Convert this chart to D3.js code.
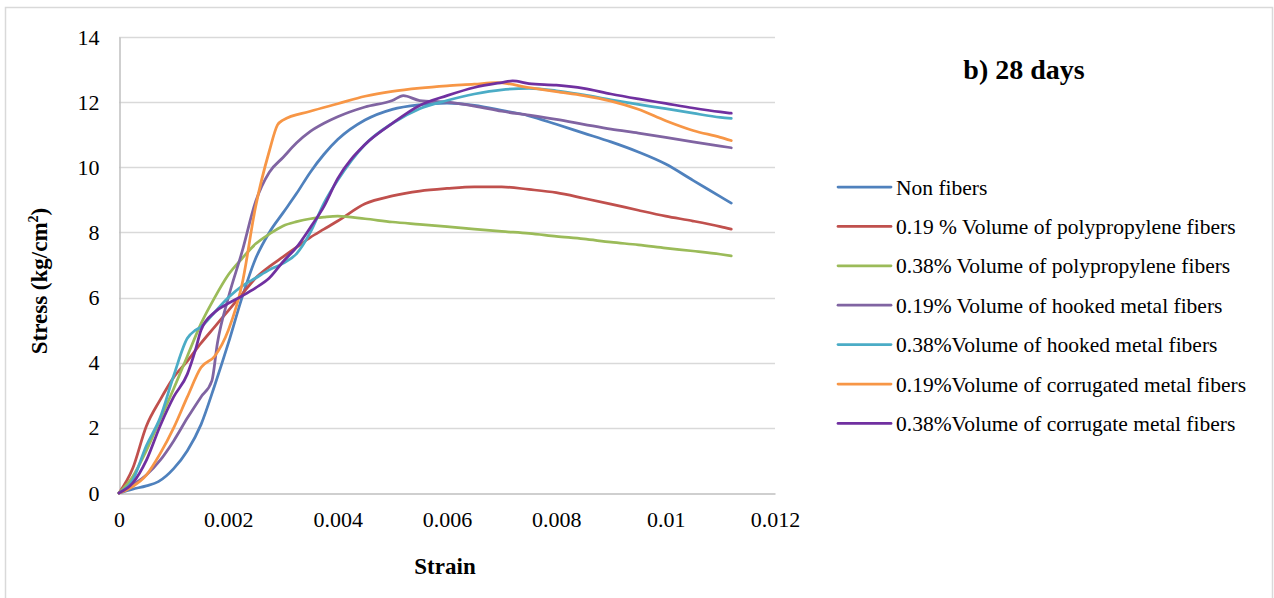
<!DOCTYPE html>
<html>
<head>
<meta charset="utf-8">
<script src="https://cdn.jsdelivr.net/npm/d3@7"></script>
<style>
  html, body { margin: 0; padding: 0; background: #fff; }
  svg { display: block; font-family: "Liberation Serif", "Times New Roman", serif; }
</style>
</head>
<body>
<svg id="chart" width="1274" height="598"></svg>
<script>
// Stress-strain curves, 28 days
const yTicks = [0, 2, 4, 6, 8, 10, 12, 14];
const xTicks = [0, 0.002, 0.004, 0.006, 0.008, 0.01, 0.012];

const nonFibersStrain = [0, 0.00025, 0.0005, 0.00072, 0.001, 0.00125, 0.0015, 0.00175, 0.002, 0.00225, 0.0025, 0.00275, 0.003, 0.00325, 0.0035, 0.00375, 0.004, 0.0045, 0.005, 0.0055, 0.006, 0.0065, 0.007, 0.0075, 0.008, 0.0085, 0.009, 0.0095, 0.01, 0.0105, 0.011, 0.0112];
const nonFibersStress = [0, 0.12, 0.22, 0.35, 0.75, 1.3, 2.1, 3.3, 4.6, 6.0, 7.2, 8.0, 8.6, 9.2, 9.85, 10.4, 10.85, 11.45, 11.78, 11.92, 11.97, 11.9, 11.75, 11.58, 11.32, 11.05, 10.78, 10.47, 10.1, 9.6, 9.1, 8.9];

const pp019Strain = [0, 0.00025, 0.0005, 0.00075, 0.001, 0.00125, 0.0015, 0.00175, 0.002, 0.00225, 0.0025, 0.00275, 0.003, 0.00325, 0.0035, 0.00375, 0.004, 0.0045, 0.005, 0.0055, 0.006, 0.0065, 0.007, 0.0075, 0.008, 0.0085, 0.009, 0.0095, 0.01, 0.0105, 0.011, 0.0112];
const pp019Stress = [0, 0.75, 2.05, 2.85, 3.55, 4.05, 4.6, 5.1, 5.6, 6.1, 6.6, 6.95, 7.25, 7.55, 7.85, 8.1, 8.35, 8.88, 9.12, 9.27, 9.35, 9.4, 9.4, 9.32, 9.22, 9.05, 8.87, 8.68, 8.5, 8.35, 8.18, 8.1];

const pp038Strain = [0, 0.00025, 0.0005, 0.00075, 0.001, 0.00125, 0.0015, 0.00175, 0.002, 0.00225, 0.0025, 0.00275, 0.003, 0.00325, 0.0035, 0.00375, 0.004, 0.0045, 0.005, 0.0055, 0.006, 0.0065, 0.007, 0.0075, 0.008, 0.0085, 0.009, 0.0095, 0.01, 0.0105, 0.011, 0.0112];
const pp038Stress = [0, 0.5, 1.3, 2.25, 3.2, 4.2, 5.2, 6.0, 6.7, 7.2, 7.65, 7.95, 8.2, 8.33, 8.42, 8.47, 8.5, 8.42, 8.32, 8.25, 8.18, 8.1, 8.03, 7.97, 7.88, 7.8, 7.7, 7.62, 7.52, 7.43, 7.33, 7.28];

const hooked019Strain = [0, 0.00025, 0.0005, 0.00075, 0.001, 0.00125, 0.0015, 0.0017, 0.0018, 0.002, 0.00225, 0.0025, 0.00275, 0.003, 0.00325, 0.0035, 0.00375, 0.004, 0.0045, 0.005, 0.0052, 0.0055, 0.006, 0.0065, 0.007, 0.0075, 0.008, 0.0085, 0.009, 0.0095, 0.01, 0.0105, 0.011, 0.0112];
const hooked019Stress = [0, 0.25, 0.55, 1.0, 1.6, 2.3, 2.95, 3.45, 4.6, 6.0, 7.4, 8.95, 9.85, 10.3, 10.75, 11.1, 11.35, 11.55, 11.85, 12.05, 12.2, 12.05, 12.0, 11.88, 11.72, 11.6, 11.47, 11.32, 11.17, 11.05, 10.92, 10.78, 10.65, 10.6];

const hooked038Strain = [0, 0.00025, 0.0005, 0.00075, 0.001, 0.00125, 0.0014, 0.0015, 0.00175, 0.002, 0.00225, 0.0025, 0.00275, 0.003, 0.00325, 0.0035, 0.00375, 0.004, 0.0045, 0.005, 0.0055, 0.006, 0.0065, 0.007, 0.0075, 0.008, 0.0085, 0.009, 0.0095, 0.01, 0.0105, 0.011, 0.0112];
const hooked038Stress = [0, 0.4, 1.45, 2.3, 3.6, 4.75, 5.0, 5.1, 5.55, 6.0, 6.35, 6.6, 6.85, 7.05, 7.35, 8.0, 8.9, 9.6, 10.7, 11.35, 11.8, 12.05, 12.25, 12.38, 12.42, 12.35, 12.22, 12.07, 11.93, 11.8, 11.66, 11.53, 11.5];

const corr019Strain = [0, 0.00025, 0.0005, 0.00075, 0.001, 0.00125, 0.0015, 0.00175, 0.002, 0.00225, 0.0025, 0.00275, 0.0029, 0.003, 0.0035, 0.004, 0.0045, 0.005, 0.0055, 0.006, 0.0065, 0.0069, 0.0075, 0.008, 0.0085, 0.009, 0.0095, 0.01, 0.0105, 0.011, 0.0112];
const corr019Stress = [0, 0.2, 0.55, 1.2, 2.0, 2.95, 3.85, 4.2, 5.0, 6.4, 8.8, 10.5, 11.3, 11.45, 11.72, 11.95, 12.18, 12.33, 12.43, 12.5, 12.55, 12.6, 12.45, 12.32, 12.2, 12.03, 11.78, 11.43, 11.13, 10.92, 10.82];

const corr038Strain = [0, 0.00025, 0.0005, 0.00075, 0.001, 0.00125, 0.0014, 0.0015, 0.00175, 0.002, 0.00225, 0.0025, 0.00275, 0.003, 0.00325, 0.0035, 0.00375, 0.004, 0.0045, 0.005, 0.0055, 0.006, 0.0065, 0.007, 0.0072, 0.0075, 0.008, 0.0085, 0.009, 0.0095, 0.01, 0.0105, 0.011, 0.0112];
const corr038Stress = [0, 0.3, 1.0, 2.05, 2.95, 3.65, 4.4, 5.0, 5.55, 5.82, 6.05, 6.3, 6.6, 7.1, 7.55, 8.15, 8.8, 9.65, 10.7, 11.35, 11.9, 12.2, 12.45, 12.6, 12.65, 12.57, 12.52, 12.42, 12.25, 12.1, 11.96, 11.82, 11.7, 11.66];

const seriesNames = [
  "Non fibers",
  "0.19 % Volume of polypropylene fibers",
  "0.38% Volume of polypropylene fibers",
  "0.19% Volume of hooked metal fibers",
  "0.38%Volume of hooked metal fibers",
  "0.19%Volume of corrugated metal fibers",
  "0.38%Volume of corrugate metal fibers"
];
const seriesColors = ["#4F81BD", "#C0504D", "#9BBB59", "#8064A2", "#4BACC6", "#F79646", "#7030A0"];

const seriesData = [
  [nonFibersStrain, nonFibersStress],
  [pp019Strain, pp019Stress],
  [pp038Strain, pp038Stress],
  [hooked019Strain, hooked019Stress],
  [hooked038Strain, hooked038Stress],
  [corr019Strain, corr019Stress],
  [corr038Strain, corr038Stress]
].map(([xs, ys], i) => ({
  name: seriesNames[i],
  color: seriesColors[i],
  points: xs.map((x, j) => ({ x, y: ys[j] }))
}));

const svg = d3.select("#chart");

// outer chart frame
svg.append("rect")
  .attr("x", 5.5).attr("y", 7.5)
  .attr("width", 1267).attr("height", 620)
  .attr("fill", "#fff").attr("stroke", "#d9d9d9").attr("stroke-width", 1.5);

const plot = { left: 119, right: 775, top: 37, bottom: 493 };
const x = d3.scaleLinear().domain([0, 0.012]).range([plot.left, plot.right]);
const y = d3.scaleLinear().domain([0, 14]).range([plot.bottom, plot.top]);

// horizontal gridlines
svg.append("g")
  .selectAll("line")
  .data(yTicks.filter(d => d > 0))
  .join("line")
  .attr("x1", plot.left).attr("x2", plot.right)
  .attr("y1", d => Math.round(y(d)) + 0.5).attr("y2", d => Math.round(y(d)) + 0.5)
  .attr("stroke", "#d9d9d9").attr("stroke-width", 1.5);

// axes
const yAxis = d3.axisLeft(y).tickValues(yTicks).tickSize(0).tickPadding(20).tickFormat(d3.format("d"));
const xAxis = d3.axisBottom(x).tickValues(xTicks).tickSize(0).tickPadding(18).tickFormat(d => d === 0 ? "0" : String(d));

const gy = svg.append("g").attr("transform", `translate(${plot.left + 0.5},0)`).call(yAxis);
const gx = svg.append("g").attr("transform", `translate(0,${plot.bottom + 0.5})`).call(xAxis);
[gx, gy].forEach(g => {
  g.select(".domain").attr("stroke", "#bfbfbf").attr("stroke-width", 1.5);
  g.selectAll("text")
    .attr("font-family", "Liberation Serif, Times New Roman, serif")
    .attr("font-size", 22).attr("fill", "#000");
});

// curves
const line = d3.line()
  .x(d => x(d.x))
  .y(d => y(d.y))
  .curve(d3.curveMonotoneX);

svg.append("g")
  .selectAll("path")
  .data(seriesData)
  .join("path")
  .attr("d", d => line(d.points))
  .attr("fill", "none")
  .attr("stroke", d => d.color)
  .attr("stroke-width", 2.75)
  .attr("stroke-linejoin", "round")
  .attr("stroke-linecap", "round");

// axis titles
svg.append("text")
  .attr("x", 445).attr("y", 574)
  .attr("text-anchor", "middle")
  .attr("font-size", 23).attr("font-weight", "bold")
  .text("Strain");

const yTitle = svg.append("text")
  .attr("transform", "translate(47,281) rotate(-90)")
  .attr("text-anchor", "middle")
  .attr("font-size", 23).attr("font-weight", "bold");
yTitle.append("tspan").text("Stress (kg/cm");
yTitle.append("tspan").attr("font-size", 14).attr("dy", -9).text("2");
yTitle.append("tspan").attr("dy", 9).text(")");

// chart title
svg.append("text")
  .attr("x", 1024).attr("y", 79)
  .attr("text-anchor", "middle")
  .attr("font-size", 28).attr("font-weight", "bold")
  .text("b) 28 days");

// legend
const legend = svg.append("g")
  .selectAll("g")
  .data(seriesData)
  .join("g")
  .attr("transform", (d, i) => `translate(838,${187 + i * 39.4})`);
legend.append("line")
  .attr("x1", 0).attr("x2", 53)
  .attr("stroke", d => d.color).attr("stroke-width", 2.75)
  .attr("stroke-linecap", "round");
legend.append("text")
  .attr("x", 58).attr("dy", "0.35em")
  .attr("font-size", 21.5)
  .text(d => d.name);
</script>
</body>
</html>
